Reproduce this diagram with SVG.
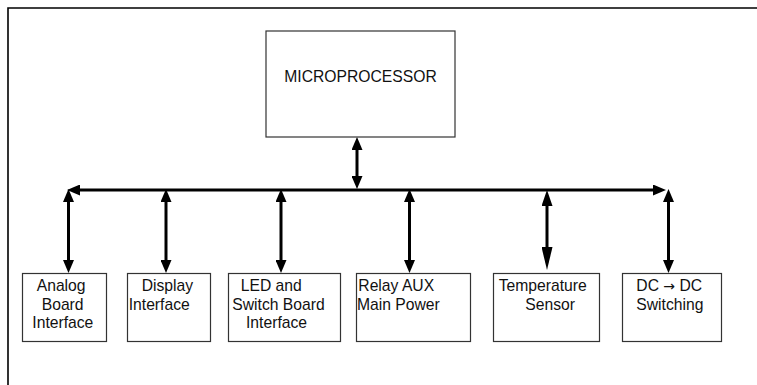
<svg xmlns="http://www.w3.org/2000/svg" width="757" height="385" viewBox="0 0 757 385">
<defs>
<style>
.box{fill:#fff;stroke:#333;stroke-width:1.2}
.t{font-family:"Liberation Sans",Arial,sans-serif;font-size:15.7px;fill:#111}
.c{stroke:#000;stroke-width:3;fill:none;marker-start:url(#ah);marker-end:url(#ah)}
</style>
<marker id="ah" markerUnits="userSpaceOnUse" viewBox="0 -5.5 13 11" markerWidth="13" markerHeight="11" refX="1" refY="0" orient="auto-start-reverse">
<path d="M0,-5.5 L13,0 L0,5.5 z" fill="#000"/>
</marker>
<marker id="ahT1" markerUnits="userSpaceOnUse" viewBox="0 -5.5 16 11" markerWidth="16" markerHeight="11" refX="1" refY="0" orient="auto-start-reverse">
<path d="M0,-5.5 L16,0 L0,5.5 z" fill="#000"/>
</marker>
<marker id="ahT2" markerUnits="userSpaceOnUse" viewBox="0 -5.5 23 11" markerWidth="23" markerHeight="11" refX="1" refY="0" orient="auto">
<path d="M0,-5.5 L23,0 L0,5.5 z" fill="#000"/>
</marker>
</defs>
<rect width="757" height="385" fill="#fff"/>
<path d="M8,385 V8 H757" fill="none" stroke="#000" stroke-width="1.6"/>

<g id="connectors">
<line class="c" x1="79" y1="190" x2="654" y2="190"/>
<line class="c" x1="357" y1="149" x2="357" y2="177"/>
<line class="c" x1="68.5" y1="201" x2="68.5" y2="261"/>
<line class="c" x1="166" y1="201" x2="166" y2="261"/>
<line class="c" x1="281" y1="201" x2="281" y2="261"/>
<line class="c" x1="409.5" y1="201" x2="409.5" y2="261"/>
<line x1="547" y1="205" x2="547" y2="248" stroke="#000" stroke-width="3" marker-start="url(#ahT1)" marker-end="url(#ahT2)"/>
<line class="c" x1="668.5" y1="201" x2="668.5" y2="261"/>
</g>

<g id="microprocessor">
<rect class="box" x="266" y="31" width="189" height="106"/>
<text class="t" x="360.5" y="81.5" text-anchor="middle">MICROPROCESSOR</text>
</g>

<g id="analog">
<rect class="box" x="22.5" y="273.5" width="84" height="68"/>
<text class="t" x="36.7" y="291">Analog</text>
<text class="t" x="41.7" y="309.5">Board</text>
<text class="t" x="32.3" y="328">Interface</text>
</g>

<g id="display">
<rect class="box" x="127.5" y="273.5" width="83" height="68"/>
<text class="t" x="141.7" y="291">Display</text>
<text class="t" x="128.7" y="309.5">Interface</text>
</g>

<g id="led">
<rect class="box" x="228.5" y="273.5" width="112" height="68"/>
<text class="t" x="240.7" y="291">LED and</text>
<text class="t" x="232.3" y="309.5">Switch Board</text>
<text class="t" x="246" y="328">Interface</text>
</g>

<g id="relay">
<rect class="box" x="356.5" y="273.5" width="114" height="68"/>
<text class="t" x="358.3" y="291">Relay AUX</text>
<text class="t" x="356.9" y="309.5">Main Power</text>
</g>

<g id="temperature">
<rect class="box" x="493.5" y="273.5" width="106" height="68"/>
<text class="t" x="498.7" y="291">Temperature</text>
<text class="t" x="525.3" y="309.5">Sensor</text>
</g>

<g id="dcdc">
<rect class="box" x="622.5" y="273.5" width="99" height="68"/>
<text class="t" x="636.3" y="291">DC <tspan font-family="'DejaVu Sans',sans-serif" font-size="14px">→</tspan> DC</text>
<text class="t" x="636.3" y="309.5">Switching</text>
</g>
</svg>
